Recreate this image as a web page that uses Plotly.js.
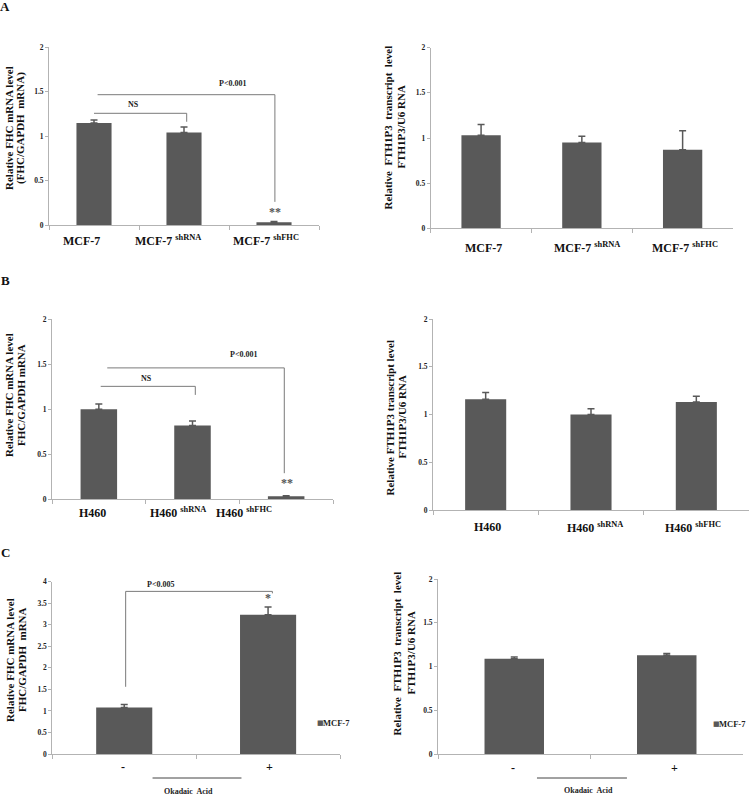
<!DOCTYPE html>
<html>
<head>
<meta charset="utf-8">
<script src="https://cdn.plot.ly/plotly-3.0.1.min.js"></script>
<style>html,body{margin:0;padding:0;background:#fff;}#chart{width:756px;height:795px;}</style>
</head>
<body>
<div id="chart"></div>
<script>
// ---------------- DATA ----------------
const catsMCF = ['MCF-7', 'MCF-7 <sup>shRNA</sup>', 'MCF-7 <sup>shFHC</sup>'];
const catsH460 = ['H460', 'H460 <sup>shRNA</sup>', 'H460 <sup>shFHC</sup>'];
const catsOA = ['-', '+'];
const seriesName = 'MCF-7';

const fhcMCF = [1.146, 1.04, 0.03];
const fhcMCFErr = [0.035, 0.06, 0.01];
const fth1p3MCF = [1.03, 0.95, 0.87];
const fth1p3MCFErr = [0.12, 0.07, 0.21];

const fhcH460 = [1.0, 0.82, 0.033];
const fhcH460Err = [0.06, 0.05, 0.007];
const fth1p3H460 = [1.16, 1.0, 1.13];
const fth1p3H460Err = [0.07, 0.06, 0.06];

const fhcOA = [1.08, 3.23];
const fhcOAErr = [0.07, 0.18];
const fth1p3OA = [1.09, 1.13];
const fth1p3OAErr = [0.02, 0.02];

const yTitleFHC1 = ['Relative FHC mRNA level', '(FHC/GAPDH  mRNA)'];
const yTitleFHC2 = ['Relative FHC mRNA level', 'FHC/GAPDH mRNA'];
const yTitleFHC3 = ['Relative FHC mRNA level', 'FHC/GAPDH  mRNA'];
const yTitleFTH = ['Relative  FTH1P3  transcript  level', 'FTH1P3/U6 RNA'];
const yTitleFTH2 = ['Relative FTH1P3 transcript level', 'FTH1P3/U6 RNA'];
const treatmentLabel = 'Okadaic  Acid';

// significance brackets (data units): [x0, x1, top, leftEnd, rightEnd]
const bracketsMCF = [[0, 1.03, 1.255, null, 1.16], [0.04, 2.01, 1.464, null, 0.26]];
const bracketsH460 = [[0.02, 1.03, 1.255, null, 1.16], [0.09, 1.98, 1.46, null, 0.29]];
const bracketsOA = [[0.01, 1.03, 3.775, 1.56, 3.73]];
// significance labels: [text, x, y]
const sigMCF = [['P<0.001', 1.54, 1.595], ['NS', 0.44, 1.35], ['**', 2.01, 0.146]];
const sigH460 = [['P<0.001', 1.54, 1.61], ['NS', 0.51, 1.34], ['**', 2.01, 0.18]];
const sigOA = [['P<0.005', 0.25, 3.94], ['*', 1.0, 3.62]];

// ---------------- LAYOUT GEOMETRY (pixels) ----------------
const W = 756, H = 795;
const FONT = 'Liberation Serif, Times New Roman, serif';
const BAR = '#595959';
const AX = '#b3b3b3';
const px = v => v / W;
const py = v => 1 - v / H;

const panels = [
  {cats: catsMCF, vals: fhcMCF, errs: fhcMCFErr, xd: [49, 319], yd: [47, 225], yr: [0, 2],
   labY: 241, labShift: [-13, -16, -8], title: yTitleFHC1, tx: [9, 21], ty: 128,
   brackets: bracketsMCF, sig: sigMCF},
  {cats: catsMCF, vals: fth1p3MCF, errs: fth1p3MCFErr, xd: [430.7, 733], yd: [47.7, 228.3], yr: [0, 2],
   labY: 248, labShift: [2, 5, 2], title: yTitleFTH, tx: [388, 401], ty: 127.5},
  {cats: catsH460, vals: fhcH460, errs: fhcH460Err, xd: [52, 333], yd: [319.3, 499.3], yr: [0, 2],
   labY: 512.7, labShift: [-6, -15, -42], title: yTitleFHC2, tx: [9, 21], ty: 395,
   brackets: bracketsH460, sig: sigH460},
  {cats: catsH460, vals: fth1p3H460, errs: fth1p3H460Err, xd: [433, 749], yd: [319, 510], yr: [0, 2],
   labY: 527, labShift: [2, 4, -3], title: yTitleFTH2, tx: [389, 401], ty: 417.5},
  {cats: catsOA, vals: fhcOA, errs: fhcOAErr, xd: [52.3, 340], yd: [581.7, 754], yr: [0, 4],
   labY: 767, labShift: [-1, 1], title: yTitleFHC3, tx: [10, 22], ty: 660,
   brackets: bracketsOA, sig: sigOA, oa: {line: [0.197, 0.815], text: 0.449, ly: 778, ty: 791}, legend: [315, 723]},
  {cats: catsOA, vals: fth1p3OA, errs: fth1p3OAErr, xd: [438, 743], yd: [579, 754], yr: [0, 2],
   labY: 768, labShift: [-1, 8], title: yTitleFTH, tx: [396, 410], ty: 653.5,
   oa: {line: [0.149, 0.739], text: 0.49, ly: 778, ty: 790}, legend: [711, 724]}
];

const traces = [];
const layout = {
  width: W, height: H, margin: {l: 0, r: 0, t: 0, b: 0},
  paper_bgcolor: '#fff', plot_bgcolor: '#fff', showlegend: false,
  font: {family: FONT, color: '#000'},
  shapes: [], annotations: []
};

panels.forEach((p, i) => {
  const n = i + 1;
  const xa = n === 1 ? 'x' : 'x' + n;
  const ya = n === 1 ? 'y' : 'y' + n;
  const xk = n === 1 ? 'xaxis' : 'xaxis' + n;
  const yk = n === 1 ? 'yaxis' : 'yaxis' + n;
  traces.push({
    type: 'bar', x: p.cats, y: p.vals, xaxis: xa, yaxis: ya, width: 0.39,
    name: seriesName, marker: {color: BAR, line: {width: 0}}, hoverinfo: 'none',
    error_y: {type: 'data', symmetric: false, array: p.errs, arrayminus: p.errs.map(() => 0),
              color: BAR, thickness: 1.5, width: 3.5}
  });
  layout[xk] = {
    type: 'category', domain: [px(p.xd[0]), px(p.xd[1])], anchor: ya,
    range: [-0.5, p.cats.length - 0.5], showline: true, linecolor: AX, linewidth: 1,
    ticks: 'outside', ticklen: 4, tickcolor: AX, tickson: 'boundaries',
    showgrid: false, zeroline: false, showticklabels: false, fixedrange: true
  };
  layout[yk] = {
    domain: [py(p.yd[1]), py(p.yd[0])], anchor: xa, range: p.yr, dtick: 0.5,
    showline: true, linecolor: AX, linewidth: 1, ticks: 'outside', ticklen: 3, tickcolor: AX,
    showgrid: false, zeroline: false, fixedrange: true,
    tickfont: {family: FONT, size: 7.5, weight: 'bold', color: '#222'}
  };
  // category labels
  p.cats.forEach((c, k) => {
    layout.annotations.push({
      text: c, xref: xa, yref: 'paper', x: k, y: py(p.labY), xshift: p.labShift[k],
      xanchor: 'center', yanchor: 'middle', showarrow: false,
      font: {family: FONT, size: 12, weight: 'bold', color: '#111111'}
    });
  });
  // y title (two rotated lines)
  p.title.forEach((t, k) => {
    layout.annotations.push({
      text: t, xref: 'paper', yref: 'paper', x: px(p.tx[k]), y: py(p.ty),
      xanchor: 'center', yanchor: 'middle', textangle: -90, showarrow: false,
      font: {family: FONT, size: 11, weight: 'bold', color: '#111'}
    });
  });
  // brackets
  (p.brackets || []).forEach(b => {
    const ln = {color: '#7a7a7a', width: 1};
    layout.shapes.push({type: 'line', xref: xa, yref: ya, x0: b[0], x1: b[1], y0: b[2], y1: b[2], line: ln});
    if (b[3] !== null) layout.shapes.push({type: 'line', xref: xa, yref: ya, x0: b[0], x1: b[0], y0: b[2], y1: b[3], line: ln});
    if (b[4] !== null) layout.shapes.push({type: 'line', xref: xa, yref: ya, x0: b[1], x1: b[1], y0: b[2], y1: b[4], line: ln});
  });
  (p.sig || []).forEach(s => {
    const star = s[0].indexOf('*') === 0;
    layout.annotations.push({
      text: s[0], xref: xa, yref: ya, x: s[1], y: s[2], showarrow: false,
      xanchor: 'center', yanchor: 'middle',
      font: {family: FONT, size: star ? 12 : 8, weight: 'bold', color: star ? '#555555' : '#222222'}
    });
  });
  if (p.oa) {
    layout.shapes.push({type: 'line', xref: xa, yref: 'paper', x0: p.oa.line[0], x1: p.oa.line[1],
      y0: py(p.oa.ly), y1: py(p.oa.ly), line: {color: '#444', width: 1}});
    layout.annotations.push({
      text: treatmentLabel, xref: xa, yref: 'paper', x: p.oa.text, y: py(p.oa.ty), showarrow: false,
      xanchor: 'center', yanchor: 'middle', font: {family: FONT, size: 8, weight: 'bold', color: '#222222'}
    });
  }
  if (p.legend) {
    layout.annotations.push({
      text: '■', xref: 'paper', yref: 'paper',
      x: px(p.legend[0]), y: py(p.legend[1]), xanchor: 'left', yanchor: 'middle', showarrow: false,
      font: {family: 'DejaVu Sans', size: 7, color: BAR}
    });
    layout.annotations.push({
      text: seriesName, xref: 'paper', yref: 'paper',
      x: px(p.legend[0] + 6), y: py(p.legend[1]), xanchor: 'left', yanchor: 'middle', showarrow: false,
      font: {family: FONT, size: 8.5, weight: 'bold', color: '#222222'}
    });
  }
});

// panel letters
[['A', 5, 7], ['B', 5, 281], ['C', 5, 552]].forEach(l => {
  layout.annotations.push({
    text: l[0], xref: 'paper', yref: 'paper', x: px(l[1]), y: py(l[2]),
    xanchor: 'center', yanchor: 'middle', showarrow: false,
    font: {family: FONT, size: 13, weight: 'bold', color: '#111'}
  });
});

Plotly.newPlot('chart', traces, layout, {displayModeBar: false, staticPlot: true});
</script>
</body>
</html>
